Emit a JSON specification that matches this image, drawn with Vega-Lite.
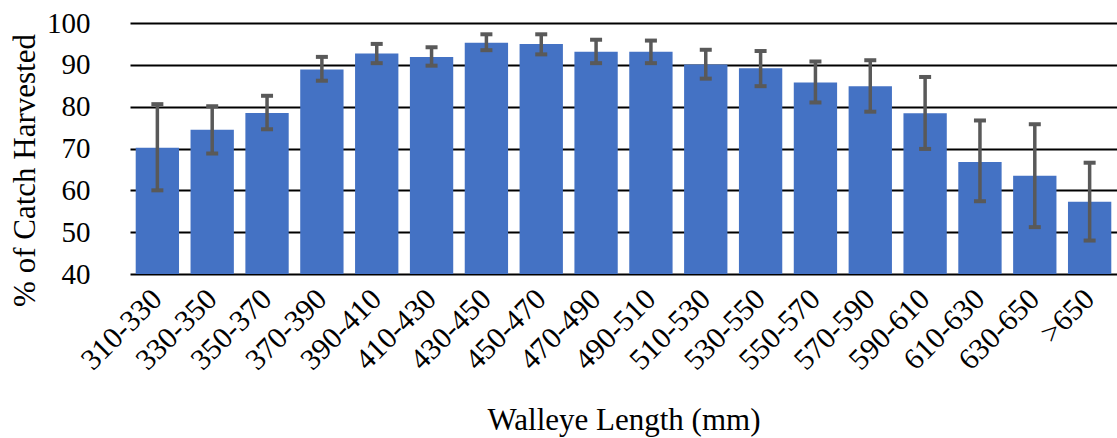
{
  "$schema": "https://vega.github.io/schema/vega-lite/v6.json",
  "autosize": "none",
  "width": 987,
  "height": 251,
  "padding": {"left": 130, "top": 23, "right": 0, "bottom": 164},
  "background": "white",
  "config": {
    "view": {"stroke": null},
    "font": "Times New Roman"
  },
  "data": {
    "values": [
      {"len": "310-330", "pct": 70.2, "lo": 60.0, "hi": 80.6},
      {"len": "330-350", "pct": 74.5, "lo": 68.8, "hi": 80.1},
      {"len": "350-370", "pct": 78.5, "lo": 74.6, "hi": 82.6},
      {"len": "370-390", "pct": 88.9, "lo": 86.2, "hi": 91.9},
      {"len": "390-410", "pct": 92.7, "lo": 90.4, "hi": 95.0},
      {"len": "410-430", "pct": 91.9, "lo": 89.8, "hi": 94.2},
      {"len": "430-450", "pct": 95.3, "lo": 93.5, "hi": 97.3},
      {"len": "450-470", "pct": 95.0, "lo": 92.5, "hi": 97.3},
      {"len": "470-490", "pct": 93.1, "lo": 90.4, "hi": 96.0},
      {"len": "490-510", "pct": 93.1, "lo": 90.4, "hi": 95.8},
      {"len": "510-530", "pct": 90.1, "lo": 86.7, "hi": 93.6},
      {"len": "530-550", "pct": 89.2, "lo": 84.9, "hi": 93.3},
      {"len": "550-570", "pct": 85.8, "lo": 81.0, "hi": 90.8},
      {"len": "570-590", "pct": 84.9, "lo": 78.8, "hi": 91.1},
      {"len": "590-610", "pct": 78.4, "lo": 69.9, "hi": 87.1},
      {"len": "610-630", "pct": 66.8, "lo": 57.4, "hi": 76.7},
      {"len": "630-650", "pct": 63.5, "lo": 51.2, "hi": 75.8},
      {"len": ">650", "pct": 57.3, "lo": 48.0, "hi": 66.6}
    ]
  },
  "encoding": {
    "x": {
      "field": "len",
      "type": "nominal",
      "sort": null,
      "scale": {"paddingInner": 0.21, "paddingOuter": 0.104},
      "axis": {
        "title": "Walleye Length (mm)",
        "titleFont": "Times New Roman",
        "titleFontSize": 31,
        "titleFontWeight": "normal",
        "titleColor": "black",
        "titleY": 155,
        "titleBaseline": "alphabetic",
        "labelFont": "Times New Roman",
        "labelFontSize": 30,
        "labelColor": "black",
        "labelAngle": -45,
        "labelAlign": "right",
        "labelBaseline": "middle",
        "labelPadding": 20,
        "ticks": false,
        "domain": false,
        "grid": false
      }
    }
  },
  "layer": [
    {
      "mark": {"type": "bar", "color": "#4472C4"},
      "encoding": {
        "y": {
          "field": "pct",
          "type": "quantitative",
          "scale": {"domain": [40, 100], "clamp": true, "zero": false},
          "axis": {
            "title": "% of Catch Harvested",
            "titleFont": "Times New Roman",
            "titleFontSize": 31,
            "titleFontWeight": "normal",
            "titleColor": "black",
            "titleX": -96,
            "titleY": 147,
            "titleBaseline": "alphabetic",
            "values": [40, 50, 60, 70, 80, 90, 100],
            "labelFont": "Times New Roman",
            "labelFontSize": 29,
            "labelColor": "black",
            "labelPadding": 40,
            "ticks": false,
            "domain": false,
            "grid": true,
            "gridColor": "black",
            "gridWidth": 2,
            "gridOpacity": 1
          }
        }
      }
    },
    {
      "mark": {"type": "rule", "color": "#595959", "strokeWidth": 3.5},
      "encoding": {
        "y": {"field": "lo", "type": "quantitative"},
        "y2": {"field": "hi"}
      }
    },
    {
      "mark": {"type": "tick", "color": "#595959", "size": 12, "thickness": 4, "opacity": 1},
      "encoding": {
        "y": {"field": "lo", "type": "quantitative"}
      }
    },
    {
      "mark": {"type": "tick", "color": "#595959", "size": 12, "thickness": 4, "opacity": 1},
      "encoding": {
        "y": {"field": "hi", "type": "quantitative"}
      }
    }
  ]
}
